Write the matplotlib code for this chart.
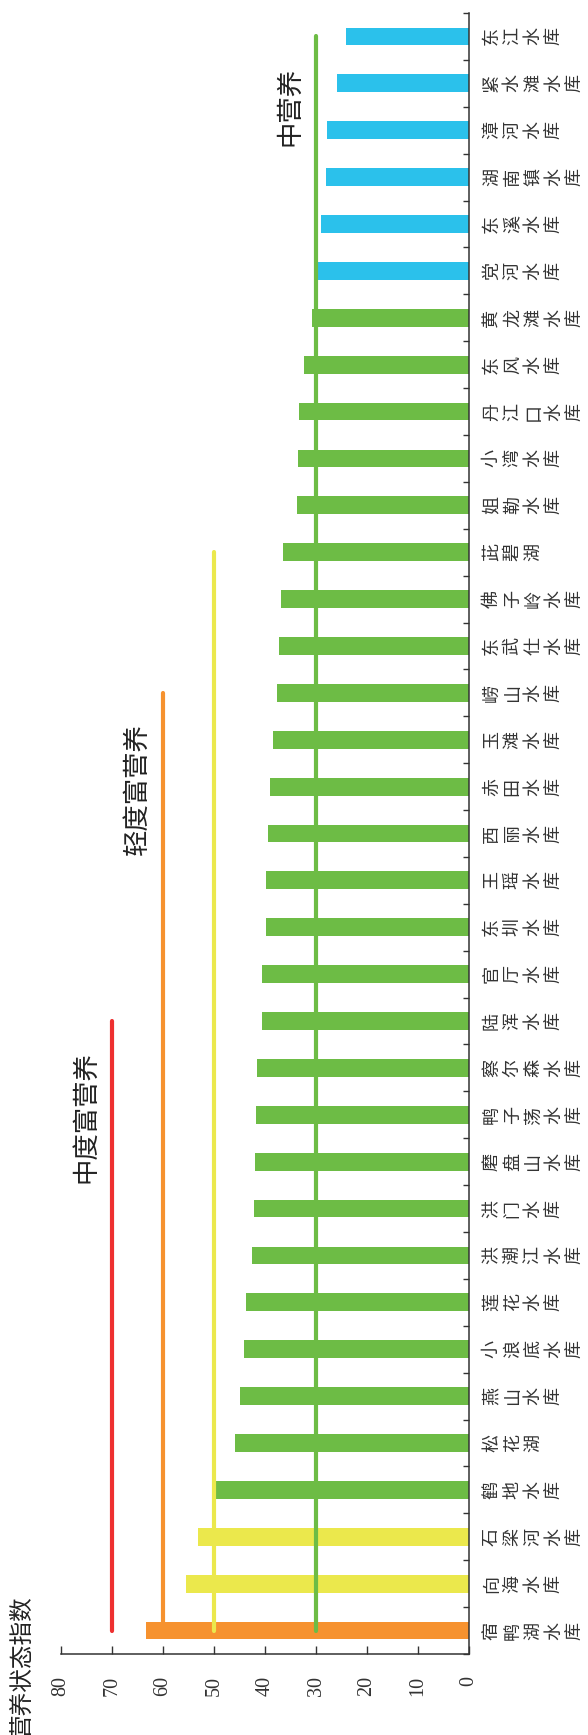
import numpy as np
import matplotlib
matplotlib.use("Agg")
import matplotlib.pyplot as plt

plt.rcParams["font.family"] = ["Noto Sans CJK SC", "DejaVu Sans"]

# reservoirs, top to bottom as they appear in the picture
names = ["东江水库", "紧水滩水库", "漳河水库", "湖南镇水库", "东溪水库", "党河水库",
         "黄龙滩水库", "东风水库", "丹江口水库", "小湾水库", "姐勒水库", "茈碧湖",
         "佛子岭水库", "东武仕水库", "崂山水库", "玉滩水库", "赤田水库", "西丽水库",
         "王瑶水库", "东圳水库", "官厅水库", "陆浑水库", "察尔森水库", "鸭子荡水库",
         "磨盘山水库", "洪门水库", "洪潮江水库", "莲花水库", "小浪底水库", "燕山水库",
         "松花湖", "鹤地水库", "石梁河水库", "向海水库", "宿鸭湖水库"]
values = [24.2, 25.9, 27.9, 28.1, 29.1, 29.9,
          30.8, 32.4, 33.3, 33.5, 33.8, 36.4,
          36.9, 37.2, 37.7, 38.4, 39.1, 39.4,
          39.8, 39.9, 40.6, 40.6, 41.6, 41.8,
          42.0, 42.1, 42.6, 43.7, 44.2, 45.0,
          45.9, 49.6, 53.2, 55.4, 63.4]
grades = ["中"] * 6 + ["轻"] * 26 + ["中富"] * 2 + ["重"]
grade_colors = {"中": "#2BC1EB", "轻": "#6DBC45", "中富": "#EBE84C", "重": "#F6922F"}

# threshold lines: value, first reservoir it starts at, label, colour
thr_values = [70, 60, 50, 30]
thr_start = ["陆浑水库", "崂山水库", "茈碧湖", "东江水库"]
thr_labels = ["中度富营养", "轻度富营养", "", "中营养"]
thr_colors = ["#EE3030", "#F6922F", "#EBE84C", "#6DBC45"]

xticks = [0, 10, 20, 30, 40, 50, 60, 70, 80]

W, H = 588, 1735
fig = plt.figure(figsize=(W / 100, H / 100), dpi=100)
ax = fig.add_axes([61 / W, 1 - 1654 / H, (469 - 61) / W, (1654 - 13) / H])

n = len(names)
y = np.arange(n)
ax.barh(y, values, height=0.38, color=[grade_colors[g] for g in grades], zorder=2)

last = n - 1
for v, s, lab, c in zip(thr_values, thr_start, thr_labels, thr_colors):
    i0 = names.index(s)
    ax.plot([v, v], [i0, last], color=c, lw=3, solid_capstyle="round", zorder=3)
    if lab:
        ax.annotate(lab, xy=(v, i0), xytext=(-9, -22), textcoords="offset points",
                    rotation=90, ha="right", va="top", fontsize=19, color="#222222")

ax.set_xlim(80, 0)
ax.set_ylim(n - 0.5, -0.5)

# category axis on the right, labels one character per line, turned
ax.yaxis.tick_right()
ax.set_yticks(y, labels=["\n".join(s) for s in names])
ax.set_yticks(np.arange(-0.5, n), minor=True)
ax.tick_params(axis="y", which="major", length=0, pad=10, labelsize=13,
               labelrotation=90, labelcolor="#333333")
ax.tick_params(axis="y", which="minor", direction="in", length=4, width=1, color="#333333")
for t in ax.get_yticklabels():
    t.set_linespacing(1.2)
    t.set_va("center")

ax.set_xticks(xticks)
ax.tick_params(axis="x", direction="in", length=6, width=1, pad=16, labelsize=14.5,
               labelrotation=90, labelcolor="#333333", color="#333333")
for t in ax.get_xticklabels():
    t.set_family("Liberation Serif")

for side in ("top", "left"):
    ax.spines[side].set_visible(False)
for side in ("bottom", "right"):
    ax.spines[side].set_color("#333333")
    ax.spines[side].set_linewidth(1.1)

fig.text(22 / W, 1 - 1666 / H, "营养状态指数", rotation=90, ha="center", va="center",
         fontsize=17, color="#222222")

fig.savefig("out.png", dpi=100, facecolor="white")
